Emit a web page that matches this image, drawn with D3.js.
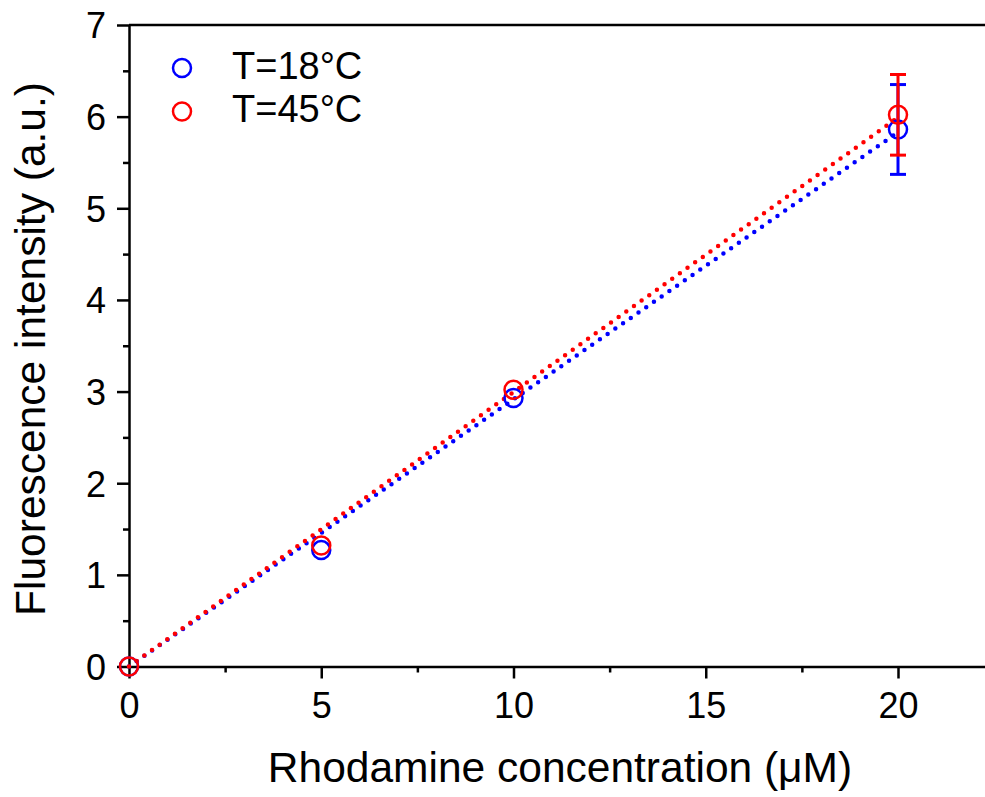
<!DOCTYPE html>
<html>
<head>
<meta charset="utf-8">
<script src="https://cdn.jsdelivr.net/npm/d3@7"></script>
<style>
  body { margin: 0; background: #fff; }
  svg { display: block; font-family: "Liberation Sans", Arial, sans-serif; }
</style>
</head>
<body>
<div id="chart"></div>
<script>
// concentration (uM)
const conc = [0, 5, 10, 20];
// fluorescence intensity, T=18°C and T=45°C
const int18 = [0, 1.27, 2.93, 5.86];
const int45 = [0, 1.32, 3.02, 6.02];
const err18 = [0, 0, 0, 0.49];
const err45 = [0, 0, 0, 0.44];
// linear fit end points
const fitX = [0, 20];
const fit18 = [0, 5.83];
const fit45 = [0, 5.99];

const xTicks = [0, 5, 10, 15, 20];
const xMinor = [2.5, 7.5, 12.5, 17.5, 22.5];
const yTicks = [0, 1, 2, 3, 4, 5, 6, 7];
const yMinor = [0.5, 1.5, 2.5, 3.5, 4.5, 5.5, 6.5];

const width = 985, height = 797;
const svg = d3.select("#chart").append("svg")
  .attr("width", width).attr("height", height);

const x = d3.scaleLinear().domain([0, 22.5]).range([129, 129 + 22.5 * 38.45]);
const y = d3.scaleLinear().domain([0, 7]).range([666.5, 25]);

const series = [
  { name: "T=18°C", color: "#0000ff", vals: int18, err: err18, fit: fit18 },
  { name: "T=45°C", color: "#ff0000", vals: int45, err: err45, fit: fit45 },
];

// top frame line
svg.append("line")
  .attr("x1", x(0)).attr("x2", x(22.5))
  .attr("y1", y(7)).attr("y2", y(7))
  .attr("stroke", "#000").attr("stroke-width", 2.5);

// axes
const fmt = d3.format("d");
const xAxis = svg.append("g")
  .attr("transform", `translate(0,${y(0)})`)
  .call(d3.axisBottom(x).tickValues(xTicks).tickFormat(fmt).tickSize(12).tickSizeOuter(0).tickPadding(14));
const yAxis = svg.append("g")
  .attr("transform", `translate(${x(0)},0)`)
  .call(d3.axisLeft(y).tickValues(yTicks).tickFormat(fmt).tickSize(12).tickSizeOuter(0).tickPadding(11));

svg.append("g")
  .attr("transform", `translate(0,${y(0)})`)
  .call(d3.axisBottom(x).tickValues(xMinor).tickSize(6).tickFormat(""))
  .select(".domain").remove();
svg.append("g")
  .attr("transform", `translate(${x(0)},0)`)
  .call(d3.axisLeft(y).tickValues(yMinor).tickSize(6).tickFormat(""))
  .select(".domain").remove();

svg.selectAll(".domain, .tick line")
  .attr("stroke", "#000").attr("stroke-width", 2.5);
svg.selectAll(".tick text")
  .attr("fill", "#000").style("font-size", "36px");
yAxis.selectAll(".tick text").attr("dy", "0.36em");

// axis titles
svg.append("text")
  .attr("x", 560).attr("y", 782)
  .attr("text-anchor", "middle")
  .style("font-size", "42.5px")
  .text("Rhodamine concentration (μM)");
svg.append("text")
  .attr("transform", `translate(45,${(85 + 613) / 2}) rotate(-90)`)
  .attr("text-anchor", "middle")
  .style("font-size", "42.5px")
  .text("Fluorescence intensity (a.u.)");

// fit lines
const line = d3.line().x(d => x(d[0])).y(d => y(d[1]));
series.forEach(s => {
  svg.append("path")
    .datum(fitX.map((v, i) => [v, s.fit[i]]))
    .attr("d", line)
    .attr("fill", "none")
    .attr("stroke", s.color)
    .attr("stroke-width", 4.5)
    .attr("stroke-linecap", "round")
    .attr("stroke-dasharray", "0 9.4");
});

// error bars and markers
series.forEach(s => {
  const g = svg.append("g");
  const pts = conc.map((c, i) => ({ c, v: s.vals[i], e: s.err[i] })).filter(d => d.e > 0);
  g.selectAll(".eb").data(pts).join("line")
    .attr("x1", d => x(d.c)).attr("x2", d => x(d.c))
    .attr("y1", d => y(d.v - d.e)).attr("y2", d => y(d.v + d.e))
    .attr("stroke", s.color).attr("stroke-width", 3);
  [-1, 1].forEach(sign => {
    g.selectAll(".cap" + sign).data(pts).join("line")
      .attr("x1", d => x(d.c) - 8).attr("x2", d => x(d.c) + 8)
      .attr("y1", d => y(d.v + sign * d.e)).attr("y2", d => y(d.v + sign * d.e))
      .attr("stroke", s.color).attr("stroke-width", 3);
  });
  g.selectAll("circle").data(conc.map((c, i) => [c, s.vals[i]])).join("circle")
    .attr("cx", d => x(d[0])).attr("cy", d => y(d[1]))
    .attr("r", 9)
    .attr("fill", "none")
    .attr("stroke", s.color)
    .attr("stroke-width", 2.5);
});

// legend
const legend = svg.append("g");
series.forEach((s, i) => {
  const ly = 68 + i * 43.4;
  legend.append("circle")
    .attr("cx", 182).attr("cy", ly).attr("r", 9)
    .attr("fill", "none").attr("stroke", s.color).attr("stroke-width", 2.5);
  legend.append("text")
    .attr("x", 232).attr("y", ly + 11)
    .style("font-size", "38px")
    .text(s.name);
});
</script>
</body>
</html>
